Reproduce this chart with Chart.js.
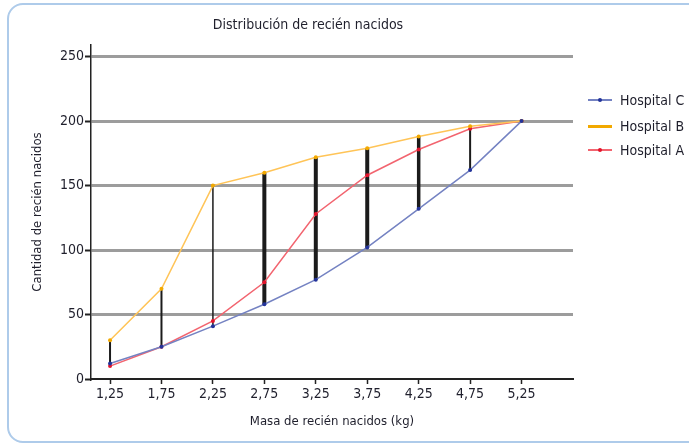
<!DOCTYPE html>
<html lang="es">
<head>
<meta charset="UTF-8">
<title>Distribución de recién nacidos</title>
<script src="https://cdn.jsdelivr.net/npm/chart.js"></script>
<style>
    body { margin: 0; background: #fff; overflow: hidden; }
    #wrap { position: relative; width: 689px; height: 444px; overflow: hidden;
            font-family: "Liberation Sans Narrow", "DejaVu Sans Condensed", sans-serif; color: #1f1f2c; }
    #frame { position: absolute; left: 7px; top: 3px; width: 900px; height: 436px;
             border: 2px solid #aecbea; border-radius: 16px; }
    #myChart { position: absolute; left: 0; top: 0; }
    #title { position: absolute; left: 158px; width: 300px; top: 16px; text-align: center; font-size: 14px; }
    .legend-item { position: absolute; left: 588px; height: 16px; font-size: 14px; line-height: 16px; }
    .legend-item .swatch { position: absolute; left: 0; width: 24px; }
    .legend-item .dot { position: absolute; left: 10px; top: 6px; width: 4px; height: 4px; border-radius: 2px; }
    .legend-item span.txt { position: absolute; left: 32px; white-space: nowrap; }
</style>
</head>
<body>
<div id="wrap">
    <div id="frame"></div>
    <canvas id="myChart" width="689" height="444"></canvas>
    <div id="title">Distribución de recién nacidos</div>
    <div id="legend"></div>
</div>

<script>
// masa de recien nacidos (kg)
var masses = [1.25, 1.75, 2.25, 2.75, 3.25, 3.75, 4.25, 4.75, 5.25];
var hospitalC = [12, 25, 41, 58, 77, 102, 132, 162, 200];
var hospitalB = [30, 70, 150, 160, 172, 179, 188, 196, 200];
var hospitalA = [10, 25, 45, 75, 128, 158, 178, 194, 200];
var yTicks = [0, 50, 100, 150, 200, 250];

// grosor de las lineas verticales (entre C y B)
var dropWidths = [2, 2, 1.5, 4, 4, 4, 3.5, 2, 0];

function toPoints(vals) {
    return masses.map(function (m, i) { return { x: m, y: vals[i] }; });
}

var series = [
    { label: "Hospital C", data: hospitalC, line: "#7482c2", point: "#23339a", width: 1.5 },
    { label: "Hospital B", data: hospitalB, line: "#ffc457", point: "#f2a900", width: 1.5 },
    { label: "Hospital A", data: hospitalA, line: "#f2646f", point: "#e3142c", width: 1.5 }
];

var datasets = series.map(function (s) {
    return {
        label: s.label,
        data: toPoints(s.data),
        borderColor: s.line,
        backgroundColor: s.point,
        borderWidth: s.width,
        pointRadius: 2,
        pointBorderWidth: 0,
        pointBackgroundColor: s.point,
        tension: 0
    };
});

// lineas verticales
masses.forEach(function (m, i) {
    if (hospitalB[i] === hospitalC[i]) return;
    datasets.push({
        label: "",
        data: [{ x: m, y: hospitalC[i] }, { x: m, y: hospitalB[i] }],
        borderColor: "#1b1b1b",
        borderWidth: dropWidths[i],
        pointRadius: 0,
        borderCapStyle: "butt"
    });
});

var fontFam = '"Liberation Sans Narrow", "DejaVu Sans Condensed", sans-serif';

var ctx = document.getElementById("myChart").getContext("2d");
var myChart = new Chart(ctx, {
    type: "line",
    data: { datasets: datasets },
    options: {
        responsive: false,
        animation: false,
        layout: { padding: { left: 28, right: 116, top: 45, bottom: 0 } },
        plugins: {
            legend: { display: false },
            tooltip: { enabled: false }
        },
        scales: {
            x: {
                type: "linear",
                min: 1.065,
                max: 5.75,
                afterBuildTicks: function (scale) {
                    scale.ticks = masses.map(function (v) { return { value: v }; });
                },
                afterFit: function (scale) { scale.height = 65; },
                border: { display: true, color: "#222", width: 2 },
                grid: { drawOnChartArea: false, drawTicks: true, tickLength: 5, tickColor: "#222", tickWidth: 1.5 },
                ticks: {
                    padding: 2,
                    color: "#1f1f2c",
                    font: { family: fontFam, size: 14 },
                    callback: function (v) { return v.toFixed(2).replace(".", ","); }
                },
                title: {
                    display: true,
                    text: "Masa de recién nacidos (kg)",
                    color: "#1f1f2c",
                    font: { family: fontFam, size: 13 },
                    padding: { top: 0, bottom: 15 }
                }
            },
            y: {
                min: 0,
                max: 259,
                afterBuildTicks: function (scale) {
                    scale.ticks = yTicks.map(function (v) { return { value: v }; });
                },
                afterFit: function (scale) { scale.width = 63; },
                border: { display: true, color: "#222", width: 1.5 },
                grid: {
                    color: function (c) { return c.tick && c.tick.value === 0 ? "rgba(0,0,0,0)" : "#9c9c9c"; },
                    lineWidth: 3,
                    tickLength: 6,
                    tickColor: "#222",
                    tickWidth: 2
                },
                ticks: {
                    padding: 1,
                    color: "#1f1f2c",
                    font: { family: fontFam, size: 14 }
                },
                title: {
                    display: true,
                    text: "Cantidad de recién nacidos",
                    color: "#1f1f2c",
                    font: { family: fontFam, size: 13 },
                    padding: { top: 2, bottom: 0 }
                }
            }
        }
    }
});

// leyenda
var legendTops = [92, 118, 142];
var legend = document.getElementById("legend");
series.forEach(function (s, i) {
    var item = document.createElement("div");
    item.className = "legend-item";
    item.style.top = legendTops[i] + "px";
    var sw = document.createElement("div");
    sw.className = "swatch";
    var thick = s.label === "Hospital B" ? 3 : 1.5;
    sw.style.top = (8 - thick / 2) + "px";
    sw.style.height = thick + "px";
    sw.style.background = s.label === "Hospital B" ? s.point : s.line;
    item.appendChild(sw);
    if (s.label !== "Hospital B") {
        var dot = document.createElement("div");
        dot.className = "dot";
        dot.style.background = s.point;
        item.appendChild(dot);
    }
    var t = document.createElement("span");
    t.className = "txt";
    t.textContent = s.label;
    item.appendChild(t);
    legend.appendChild(item);
});
</script>
</body>
</html>
